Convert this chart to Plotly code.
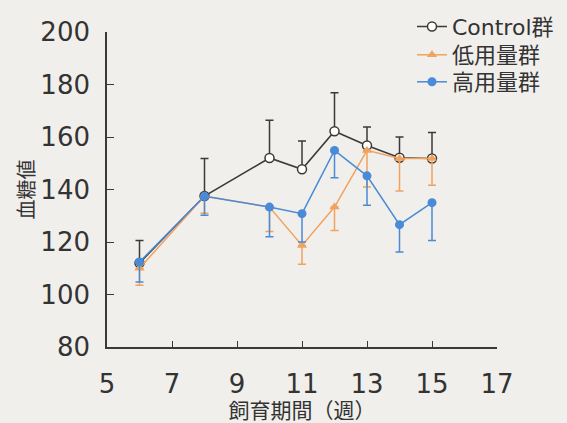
import plotly.graph_objects as go

weeks = [6, 8, 10, 11, 12, 13, 14, 15]

control = [112.0, 137.5, 152.0, 147.7, 162.2, 156.8, 152.1, 151.8]
control_err_up = [8.6, 14.3, 14.4, 10.8, 14.7, 7.0, 7.9, 9.9]

low_dose = [110.0, 137.5, 133.3, 118.7, 133.3, 154.9, 151.8, 151.8]
low_err_down = [6.5, 6.5, 9.3, 7.2, 8.9, 13.9, 12.4, 10.2]

high_dose = [112.4, 137.4, 133.3, 130.8, 154.9, 145.2, 126.6, 135.0]
high_err_down = [7.6, 7.2, 11.3, 10.8, 10.4, 11.2, 10.4, 14.4]

names = ["Control群", "低用量群", "高用量群"]
x_ticks = [5, 7, 9, 11, 13, 15, 17]
y_ticks = [80, 100, 120, 140, 160, 180, 200]

BG = "#f1efec"
DARK = "#3c3a38"
ORANGE = "#f0a25e"
BLUE = "#4a8ad6"
FONT = "DejaVu Sans, Noto Sans CJK JP, sans-serif"

fig = go.Figure()

fig.add_trace(go.Scatter(
    x=weeks, y=control, name=names[0], mode="lines+markers", legend="legend",
    line=dict(color=DARK, width=1.6),
    marker=dict(symbol="circle", size=9, color="white",
                line=dict(color=DARK, width=1.5)),
    error_y=dict(type="data", symmetric=False, array=control_err_up,
                 arrayminus=[0] * len(weeks), color=DARK, thickness=1.5, width=4),
))

fig.add_trace(go.Scatter(
    x=weeks, y=low_dose, name=names[1], mode="lines+markers", legend="legend2",
    line=dict(color=ORANGE, width=1.5),
    marker=dict(symbol="triangle-up", size=9, color=ORANGE),
    error_y=dict(type="data", symmetric=False, array=[0] * len(weeks),
                 arrayminus=low_err_down, color=ORANGE, thickness=1.5, width=4),
))

fig.add_trace(go.Scatter(
    x=weeks, y=high_dose, name=names[2], mode="lines+markers", legend="legend3",
    line=dict(color=BLUE, width=1.5),
    marker=dict(symbol="circle", size=9, color=BLUE),
    error_y=dict(type="data", symmetric=False, array=[0] * len(weeks),
                 arrayminus=high_err_down, color=BLUE, thickness=1.5, width=4),
))

def legend_at(yc):
    return dict(xref="container", yref="container",
                x=0.7266, y=1 - yc / 423, xanchor="left", yanchor="middle",
                bgcolor="rgba(0,0,0,0)", font=dict(size=22, color="#333333"),
                itemwidth=30)

fig.update_layout(
    width=567, height=423,
    paper_bgcolor=BG, plot_bgcolor=BG,
    margin=dict(l=107, r=70, t=32, b=76, autoexpand=False),
    font=dict(family=FONT, color="#333333", size=20),
    showlegend=True,
    legend=legend_at(26.7),
    legend2=legend_at(55),
    legend3=legend_at(82),
    xaxis=dict(range=[5, 17], tickmode="array", tickvals=x_ticks,
               ticks="inside", ticklen=6, tickwidth=1.4, tickcolor=DARK,
               showline=True, linecolor=DARK, linewidth=1.6,
               showgrid=False, zeroline=False, automargin=False,
               tickfont=dict(size=26, color="#333333"),
               ticklabelstandoff=13,
               title=dict(text="飼育期間（週）", font=dict(size=21, color="#333333"),
                          standoff=2)),
    yaxis=dict(range=[80, 200], tickmode="array", tickvals=y_ticks,
               ticks="inside", ticklen=7, tickwidth=1.4, tickcolor=DARK,
               showline=True, linecolor=DARK, linewidth=1.6,
               showgrid=False, zeroline=False, automargin=False,
               tickfont=dict(size=26, color="#333333"),
               ticklabelstandoff=10,
               title=dict(text="血糖値", font=dict(size=20, color="#333333"),
                          standoff=0)),
)

fig.write_html(
    "out.html",
    config={"displayModeBar": False},
    post_script="document.body.style.margin='0';document.body.style.background='%s';" % BG,
)
